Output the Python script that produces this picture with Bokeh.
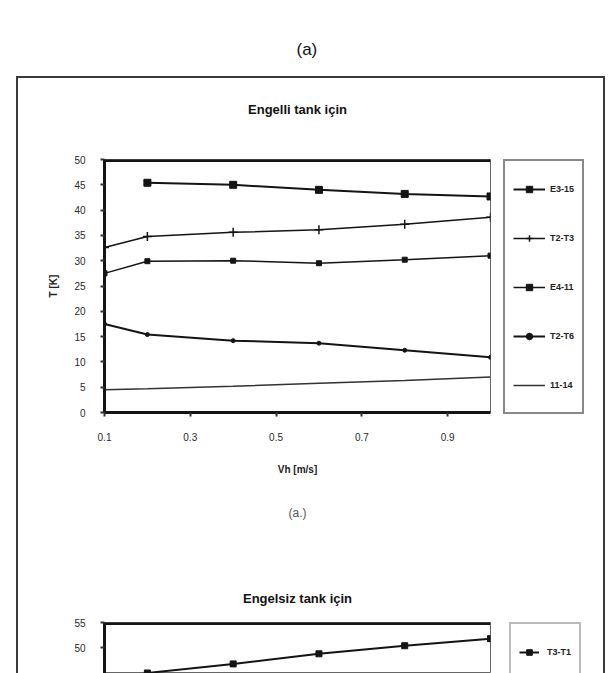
from bokeh.plotting import figure
from bokeh.models import (Range1d, FixedTicker, Legend, LegendItem, Title, Span)
from bokeh.layouts import column
from bokeh.embed import file_html
from bokeh.resources import INLINE

# ---------------- data ----------------
speed = [0.1, 0.2, 0.4, 0.6, 0.8, 1.0]
speed_e3 = [0.2, 0.4, 0.6, 0.8, 1.0]
e3_15 = [45.4, 45.0, 44.0, 43.2, 42.7]
t2_t3 = [32.6, 34.8, 35.6, 36.1, 37.2, 38.6]
e4_11 = [27.5, 29.9, 30.0, 29.5, 30.2, 31.0]
t2_t6 = [17.5, 15.4, 14.2, 13.7, 12.3, 10.9]
s11_14 = [4.5, 4.7, 5.2, 5.8, 6.3, 7.0]
x_ticks = [0.1, 0.3, 0.5, 0.7, 0.9]
y_ticks_top = [0, 5, 10, 15, 20, 25, 30, 35, 40, 45, 50]

speed_b = [0.1, 0.2, 0.4, 0.6, 0.8, 1.0]
t3_t1 = [43.0, 45.0, 46.8, 48.8, 50.4, 51.8]
y_ticks_bottom = [50, 55]

series_names = ["E3-15", "T2-T3", "E4-11", "T2-T6", "11-14"]

FONT = "Liberation Sans"
INK = "#141414"

BORDERS = dict(min_border_left=104, min_border_right=120, frame_width=386)


def style_axis(ax):
    ax.axis_line_width = 3
    ax.axis_line_color = INK
    ax.major_tick_line_color = "#333333"
    ax.major_tick_line_width = 2
    ax.major_tick_in = 0
    ax.major_tick_out = 4
    ax.minor_tick_line_color = None
    ax.major_label_text_font = FONT
    ax.major_label_text_font_size = "10px"
    ax.major_label_text_color = "#2a2a2a"
    ax.axis_label_text_font = FONT
    ax.axis_label_text_font_size = "10px"
    ax.axis_label_text_font_style = "bold"
    ax.axis_label_text_color = "#222222"


def style_legend(leg, glyph_h, label_h):
    leg.margin = 0
    leg.padding = 8
    leg.glyph_height = glyph_h
    leg.label_height = label_h
    leg.label_text_font = FONT
    leg.label_text_font_size = "9px"
    leg.label_text_font_style = "bold"
    leg.label_text_color = "#222222"
    leg.background_fill_color = "white"
    leg.background_fill_alpha = 1


# ---------------- header "(a)" ----------------
header = figure(frame_height=2, output_backend="svg", toolbar_location=None,
                x_axis_type=None, y_axis_type=None,
                min_border_top=76, min_border_bottom=0, **BORDERS,
                background_fill_color=None, border_fill_color=None)
header.grid.visible = False
header.outline_line_color = None
header.add_layout(Title(text="(a)", align="left", offset=192, standoff=36,
                        text_font=FONT, text_font_size="17px",
                        text_font_style="normal", text_color="#111111"), "above")

# ---------------- chart title strip ----------------
title_strip = figure(frame_height=1, output_backend="svg", toolbar_location=None,
                     x_axis_type=None, y_axis_type=None,
                     min_border_top=50, min_border_bottom=0, **BORDERS,
                     background_fill_color=None, border_fill_color=None)
title_strip.grid.visible = False
title_strip.outline_line_color = None
title_strip.add_layout(Title(text="Engelli tank için", align="center", standoff=24,
                             text_font=FONT, text_font_size="13px",
                             text_font_style="bold", text_color="#111111"), "above")

# ---------------- top chart ----------------
pA = figure(frame_height=253, output_backend="svg", toolbar_location=None,
            x_range=Range1d(0.1, 1.0), y_range=Range1d(0, 50),
            min_border_top=30, min_border_bottom=148, **BORDERS,
            background_fill_color="white", border_fill_color=None)
pA.grid.visible = False
pA.outline_line_color = "#666666"
pA.outline_line_width = 1

pA.xaxis.ticker = FixedTicker(ticks=x_ticks)
pA.yaxis.ticker = FixedTicker(ticks=y_ticks_top)
style_axis(pA.xaxis[0])
style_axis(pA.yaxis[0])
pA.yaxis.axis_label = "T [K]"
pA.xaxis.axis_label = "Vh [m/s]"
pA.yaxis.major_label_standoff = 15
pA.yaxis.axis_label_standoff = 12
pA.xaxis.major_label_standoff = 16
pA.xaxis.axis_label_standoff = 20

pA.add_layout(Span(location=50, dimension="width", line_color=INK, line_width=5))

r1l = pA.line(speed_e3, e3_15, line_color=INK, line_width=2)
r1m = pA.scatter(speed_e3, e3_15, marker="square", size=7, fill_color=INK, line_color=INK)
r2l = pA.line(speed, t2_t3, line_color=INK, line_width=1.5)
r2m = pA.scatter(speed, t2_t3, marker="cross", size=9, line_color=INK, line_width=1.5)
r3l = pA.line(speed, e4_11, line_color=INK, line_width=1.5)
r3m = pA.scatter(speed, e4_11, marker="square", size=5, fill_color=INK, line_color=INK)
r4l = pA.line(speed, t2_t6, line_color=INK, line_width=2)
r4m = pA.scatter(speed, t2_t6, marker="circle", size=4, fill_color=INK, line_color=INK)
r5l = pA.line(speed, s11_14, line_color="#333333", line_width=1.5)

legA = Legend(items=[
    LegendItem(label=series_names[0], renderers=[r1l, r1m]),
    LegendItem(label=series_names[1], renderers=[r2l, r2m]),
    LegendItem(label=series_names[2], renderers=[r3l, r3m]),
    LegendItem(label=series_names[3], renderers=[r4l, r4m]),
    LegendItem(label=series_names[4], renderers=[r5l]),
], location=(13, -2))
style_legend(legA, 16, 39)
legA.spacing = 10
legA.glyph_width = 32
legA.label_standoff = 5
legA.border_line_color = INK
legA.border_line_width = 2
pA.add_layout(legA, "right")

pA.add_layout(Title(text="(a.)", align="center", standoff=52,
                    text_font=FONT, text_font_size="12px", text_font_style="normal",
                    text_color="#555555"), "below")

# ---------------- bottom chart (cut off by the page edge) ----------------
pB = figure(frame_height=51, output_backend="svg", toolbar_location=None,
            x_range=Range1d(0.1, 1.0), y_range=Range1d(44.9, 55),
            x_axis_type=None,
            min_border_top=62, min_border_bottom=0, **BORDERS,
            background_fill_color="white", border_fill_color=None)
pB.grid.visible = False
pB.outline_line_color = "#666666"
pB.yaxis.ticker = FixedTicker(ticks=y_ticks_bottom)
style_axis(pB.yaxis[0])
pB.yaxis.major_label_standoff = 15
pB.add_layout(Span(location=55, dimension="width", line_color=INK, line_width=5))

rbl = pB.line(speed_b, t3_t1, line_color=INK, line_width=2)
rbm = pB.scatter(speed_b, t3_t1, marker="square", size=6, fill_color=INK, line_color=INK)
legB = Legend(items=[LegendItem(label="T3-T1", renderers=[rbl, rbm])], location=(19, -9))
style_legend(legB, 14, 40)
legB.glyph_width = 20
legB.label_standoff = 8
legB.border_line_color = "#777777"
legB.border_line_width = 2
pB.add_layout(legB, "right")

pB.add_layout(Title(text="Engelsiz tank için", align="center", standoff=34,
                    text_font=FONT, text_font_size="13px", text_font_style="bold",
                    text_color="#111111"), "above")

# outer box edges (top, left, right), painted behind the transparent figure borders
box_edges = {
    "background": ("linear-gradient(#3a3a3a, #3a3a3a) 16px 76px / 589px 2px no-repeat, "
                   "linear-gradient(#3a3a3a, #3a3a3a) 16px 76px / 2px 620px no-repeat, "
                   "linear-gradient(#3a3a3a, #3a3a3a) 603px 76px / 2px 620px no-repeat, "
                   "white")
}
layout = column(header, title_strip, pA, pB, spacing=0, styles=box_edges)
open("out.html", "w").write(file_html(layout, INLINE))
